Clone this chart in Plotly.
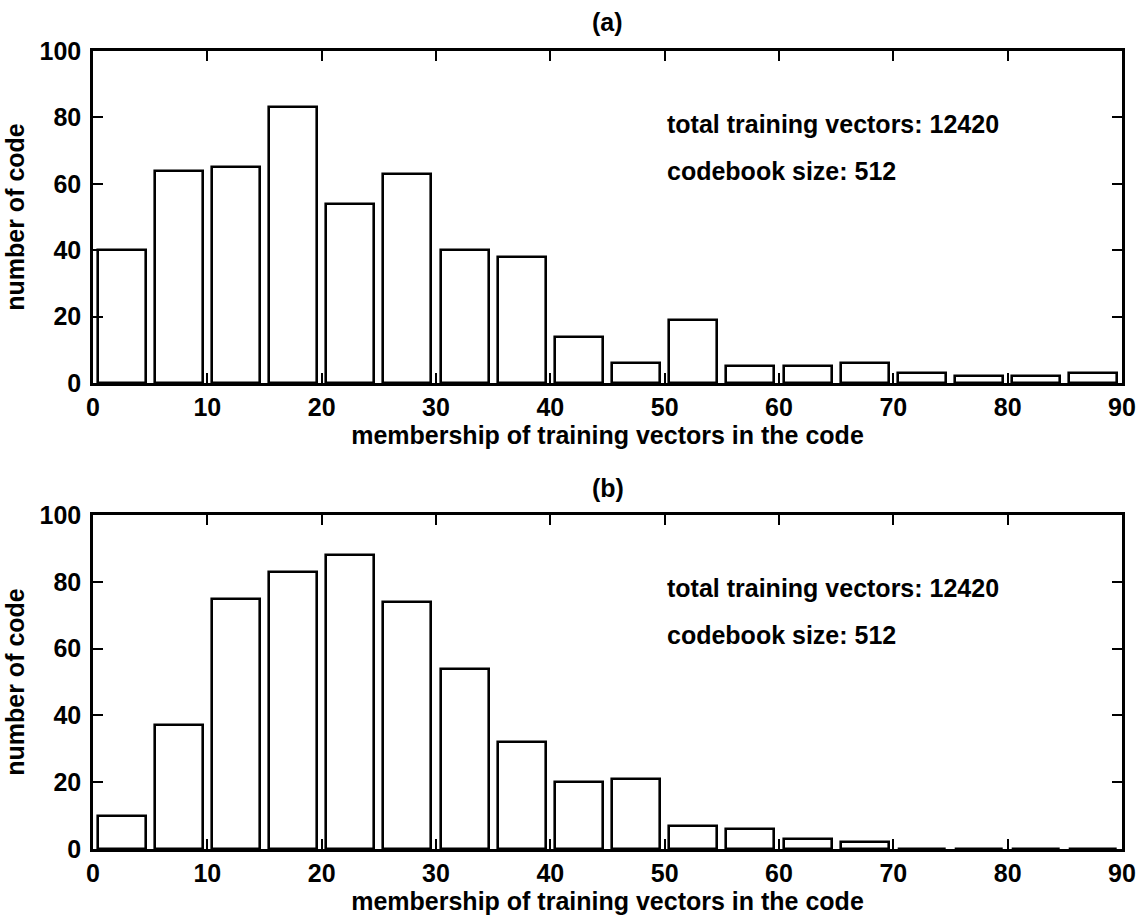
import plotly.graph_objects as go
from plotly.subplots import make_subplots

# bin centres (membership of training vectors in the code)
bin_centers = [2.5, 7.5, 12.5, 17.5, 22.5, 27.5, 32.5, 37.5, 42.5,
               47.5, 52.5, 57.5, 62.5, 67.5, 72.5, 77.5, 82.5, 87.5]
# (a) number of code per bin
counts_a = [40, 64, 65, 83, 54, 63, 40, 38, 14, 6, 19, 5, 5, 6, 3, 2, 2, 3]
# (b) number of code per bin
counts_b = [10, 37, 75, 83, 88, 74, 54, 32, 20, 21, 7, 6, 3, 2, 0, 0, 0, 0]

x_ticks = [0, 10, 20, 30, 40, 50, 60, 70, 80, 90]
y_ticks = [0, 20, 40, 60, 80, 100]

panel_labels = ["(a)", "(b)"]
info_lines = ["total training vectors: 12420", "codebook size: 512"]
info_y = [78, 64]
x_title = "membership of training vectors in the code"
y_title = "number of code"

FONT = "Liberation Sans, Arial, sans-serif"
FS = 25
FW = "bold"

W, H = 1142, 921
ML, MR, MT, MB = 93, 20, 51, 72
plot_h = H - MT - MB

def py(p):
    # pixel row -> paper fraction
    return (H - MB - p) / plot_h

def fnt():
    return dict(family=FONT, size=FS, color="black", weight=FW)

fig = make_subplots(rows=2, cols=1, vertical_spacing=0.0)

for i, counts in enumerate([counts_a, counts_b]):
    fig.add_trace(go.Bar(
        x=bin_centers, y=counts, width=4.2,
        marker=dict(color="white", line=dict(color="black", width=2.6)),
        showlegend=False, hoverinfo="x+y"), row=i + 1, col=1)

axis_common = dict(showline=True, linecolor="black", linewidth=2.5, mirror="allticks",
                   ticks="inside", ticklen=10, tickwidth=2, tickcolor="black",
                   showgrid=False, zeroline=False, tickfont=fnt())

fig.update_layout(
    width=W, height=H, margin=dict(l=ML, r=MR, t=MT, b=MB, autoexpand=False),
    paper_bgcolor="white", plot_bgcolor="white", bargap=0,
    font=fnt(),
    xaxis=dict(domain=[0, 1], range=[0, 90], tickvals=x_ticks, anchor="y",
               ticklabelstandoff=0,
               title=dict(text=x_title, standoff=2, font=fnt()),
               **axis_common),
    yaxis=dict(domain=[py(383), py(51)], range=[0, 100], tickvals=y_ticks, anchor="x",
               ticklabelstandoff=4,
               title=dict(text=y_title, standoff=8, font=fnt()),
               **axis_common),
    xaxis2=dict(domain=[0, 1], range=[0, 90], tickvals=x_ticks, anchor="y2",
                ticklabelstandoff=0,
                title=dict(text=x_title, standoff=2, font=fnt()),
                **axis_common),
    yaxis2=dict(domain=[py(849), py(515)], range=[0, 100], tickvals=y_ticks, anchor="x2",
                ticklabelstandoff=4,
                title=dict(text=y_title, standoff=8, font=fnt()),
                **axis_common),
)

annos = []
for lab, ypix in zip(panel_labels, [22, 488]):
    annos.append(dict(text=lab, x=0.5, y=py(ypix), xref="paper", yref="paper",
                      showarrow=False, xanchor="center", yanchor="middle", font=fnt()))
for xr, yr in [("x", "y"), ("x2", "y2")]:
    for line, yv in zip(info_lines, info_y):
        annos.append(dict(text=line, x=50, y=yv, xref=xr, yref=yr, showarrow=False,
                          xanchor="left", yanchor="middle", font=fnt()))
fig.update_layout(annotations=annos)

fig.write_html("out.html")
